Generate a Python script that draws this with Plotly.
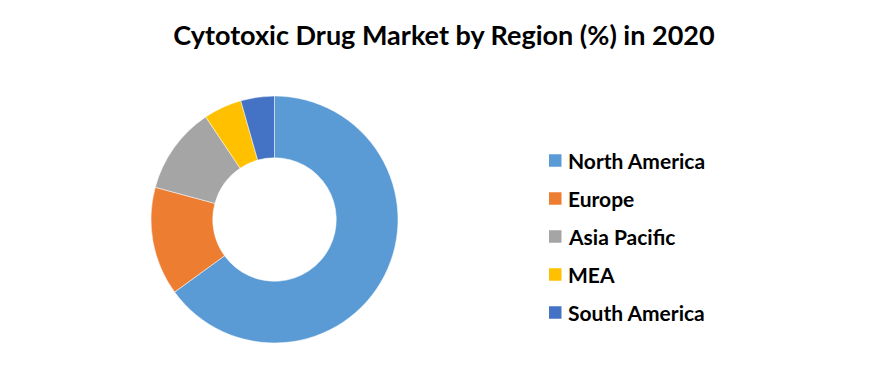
import plotly.graph_objects as go

regions = ["North America", "Europe", "Asia Pacific", "MEA", "South America"]
shares = [65.0, 14.2, 11.4, 5.0, 4.4]
colors = ["#5B9BD5", "#ED7D31", "#A5A5A5", "#FFC000", "#4472C4"]
title_text = "Cytotoxic Drug Market by Region (%) in 2020"

W, H = 888, 384
cx, cy, r = 274.5, 219.5, 123.5

fig = go.Figure(go.Pie(
    labels=regions, values=shares, hole=0.5, sort=False, direction="clockwise",
    rotation=0, marker=dict(colors=colors, line=dict(color="white", width=0.5)),
    textinfo="none", hoverinfo="label+percent", showlegend=False,
    domain=dict(x=[(cx - r) / W, (cx + r) / W], y=[1 - (cy + r) / H, 1 - (cy - r) / H]),
))

font = "Lato, 'Open Sans', sans-serif"
leg_x0, leg_y0, leg_dy, sq = 549, 160.5, 38, 12.5
for i, (lab, col) in enumerate(zip(regions, colors)):
    yc = leg_y0 + i * leg_dy
    fig.add_shape(type="rect", xref="paper", yref="paper",
                  x0=leg_x0 / W, x1=(leg_x0 + sq) / W,
                  y0=1 - (yc + sq / 2) / H, y1=1 - (yc - sq / 2) / H,
                  fillcolor=col, line=dict(width=0))
    fig.add_annotation(text="<b>%s</b>" % lab, xref="paper", yref="paper",
                       x=(leg_x0 + sq + 4) / W, y=1 - yc / H, xanchor="left", yanchor="middle",
                       showarrow=False, font=dict(family=font, size=21, color="#000000"))

fig.update_layout(
    width=W, height=H, margin=dict(l=0, r=0, t=0, b=0),
    paper_bgcolor="white", plot_bgcolor="white",
    title=dict(text="<b>%s</b>" % title_text, x=0.5, xanchor="center", y=1 - 36 / H, yanchor="middle",
               font=dict(family=font, size=27, color="#000000")),
)
fig.write_html("out.html")
